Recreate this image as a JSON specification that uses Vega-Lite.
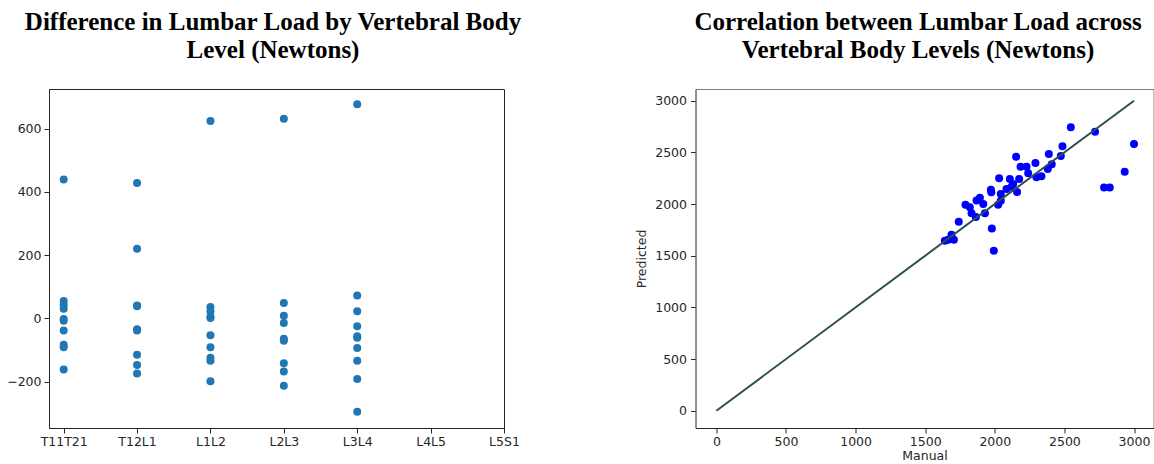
{
  "$schema": "https://vega.github.io/schema/vega-lite/v6.json",
  "background": "white",
  "padding": {"left": 6, "top": 9, "right": 0, "bottom": 0},
  "spacing": 111.5,
  "config": {
    "view": {"stroke": null},
    "axis": {
      "grid": false,
      "labelFont": "DejaVu Sans",
      "labelFontSize": 12.5,
      "labelColor": "#262626",
      "titleFont": "DejaVu Sans",
      "titleFontSize": 12.5,
      "titleFontWeight": "normal",
      "titleColor": "#262626",
      "tickColor": "#262626",
      "domainColor": "#262626",
      "tickSize": 5,
      "labelPadding": 4
    },
    "axisX": {"labelPadding": 2},
    "title": {
      "font": "Liberation Serif",
      "fontSize": 25,
      "fontWeight": "bold",
      "color": "#000000",
      "lineHeight": 28.5,
      "anchor": "middle",
      "offset": 26
    }
  },
  "hconcat": [
    {
      "width": 455,
      "height": 339,
      "view": {"stroke": "#262626", "strokeWidth": 1},
      "title": {
        "text": ["Difference in Lumbar Load by Vertebral Body", "Level (Newtons)"],
        "dx": -3.5
      },
      "data": {
        "values": [
          {"level": "T11T21", "diff": 439}, {"level": "T11T21", "diff": 55}, {"level": "T11T21", "diff": 42},
          {"level": "T11T21", "diff": 30}, {"level": "T11T21", "diff": -2}, {"level": "T11T21", "diff": -8},
          {"level": "T11T21", "diff": -39}, {"level": "T11T21", "diff": -84}, {"level": "T11T21", "diff": -92},
          {"level": "T11T21", "diff": -162},
          {"level": "T12L1", "diff": 428}, {"level": "T12L1", "diff": 220}, {"level": "T12L1", "diff": 40},
          {"level": "T12L1", "diff": 38}, {"level": "T12L1", "diff": -35}, {"level": "T12L1", "diff": -39},
          {"level": "T12L1", "diff": -115}, {"level": "T12L1", "diff": -148}, {"level": "T12L1", "diff": -175},
          {"level": "L1L2", "diff": 624}, {"level": "L1L2", "diff": 36}, {"level": "L1L2", "diff": 22},
          {"level": "L1L2", "diff": 5}, {"level": "L1L2", "diff": 1}, {"level": "L1L2", "diff": -54},
          {"level": "L1L2", "diff": -92}, {"level": "L1L2", "diff": -125}, {"level": "L1L2", "diff": -134},
          {"level": "L1L2", "diff": -199},
          {"level": "L2L3", "diff": 631}, {"level": "L2L3", "diff": 48}, {"level": "L2L3", "diff": 8},
          {"level": "L2L3", "diff": -15}, {"level": "L2L3", "diff": -65}, {"level": "L2L3", "diff": -71},
          {"level": "L2L3", "diff": -142}, {"level": "L2L3", "diff": -168}, {"level": "L2L3", "diff": -213},
          {"level": "L3L4", "diff": 677}, {"level": "L3L4", "diff": 72}, {"level": "L3L4", "diff": 22},
          {"level": "L3L4", "diff": -25}, {"level": "L3L4", "diff": -57}, {"level": "L3L4", "diff": -62},
          {"level": "L3L4", "diff": -94}, {"level": "L3L4", "diff": -134}, {"level": "L3L4", "diff": -192},
          {"level": "L3L4", "diff": -296}
        ]
      },
      "mark": {"type": "circle", "size": 64, "opacity": 1, "color": "#1f77b4"},
      "encoding": {
        "x": {
          "field": "level",
          "type": "ordinal",
          "scale": {
            "type": "point",
            "domain": ["T11T21", "T12L1", "L1L2", "L2L3", "L3L4", "L4L5", "L5S1"],
            "padding": 0.1,
            "align": 1
          },
          "axis": {"title": null, "labelAngle": 0}
        },
        "y": {
          "field": "diff",
          "type": "quantitative",
          "scale": {"domain": [-347, 725], "nice": false, "zero": false},
          "axis": {"title": null, "values": [-200, 0, 200, 400, 600], "format": "d", "labelPadding": 3}
        }
      }
    },
    {
      "width": 458,
      "height": 339,
      "view": {"stroke": "#808080", "strokeWidth": 1},
      "title": {
        "text": ["Correlation between Lumbar Load across", "Vertebral Body Levels (Newtons)"],
        "dx": -6.5
      },
      "layer": [
        {
          "data": {
            "values": [
              {"manual": 2546, "predicted": 2742}, {"manual": 2720, "predicted": 2700}, {"manual": 3000, "predicted": 2581},
              {"manual": 2933, "predicted": 2313}, {"manual": 2785, "predicted": 2161}, {"manual": 2826, "predicted": 2161},
              {"manual": 2486, "predicted": 2558}, {"manual": 2474, "predicted": 2465}, {"manual": 2388, "predicted": 2484},
              {"manual": 2409, "predicted": 2384}, {"manual": 2381, "predicted": 2338}, {"manual": 2292, "predicted": 2397},
              {"manual": 2335, "predicted": 2268}, {"manual": 2299, "predicted": 2258}, {"manual": 2153, "predicted": 2458},
              {"manual": 2185, "predicted": 2361}, {"manual": 2228, "predicted": 2361}, {"manual": 2240, "predicted": 2297},
              {"manual": 2175, "predicted": 2242}, {"manual": 2108, "predicted": 2242}, {"manual": 2132, "predicted": 2194},
              {"manual": 2160, "predicted": 2116}, {"manual": 2084, "predicted": 2145}, {"manual": 2120, "predicted": 2168},
              {"manual": 2031, "predicted": 2250}, {"manual": 2043, "predicted": 2097}, {"manual": 2024, "predicted": 1992},
              {"manual": 2043, "predicted": 2032}, {"manual": 1972, "predicted": 2139}, {"manual": 1975, "predicted": 2115},
              {"manual": 1893, "predicted": 2061}, {"manual": 1869, "predicted": 2035}, {"manual": 1917, "predicted": 2000},
              {"manual": 1929, "predicted": 1910}, {"manual": 1789, "predicted": 1992}, {"manual": 1821, "predicted": 1968},
              {"manual": 1833, "predicted": 1910}, {"manual": 1864, "predicted": 1874}, {"manual": 1741, "predicted": 1829},
              {"manual": 1979, "predicted": 1764}, {"manual": 1993, "predicted": 1548}, {"manual": 1689, "predicted": 1704},
              {"manual": 1665, "predicted": 1655}, {"manual": 1706, "predicted": 1655}, {"manual": 1641, "predicted": 1645}
            ]
          },
          "mark": {"type": "circle", "size": 64, "opacity": 1, "color": "#0000ff"},
          "encoding": {
            "x": {
              "field": "manual",
              "type": "quantitative",
              "scale": {"domain": [-150, 3140], "nice": false, "zero": false},
              "axis": {"title": "Manual", "values": [0, 500, 1000, 1500, 2000, 2500, 3000], "format": "d", "titlePadding": 2}
            },
            "y": {
              "field": "predicted",
              "type": "quantitative",
              "scale": {"domain": [-167, 3113], "nice": false, "zero": false},
              "axis": {"title": "Predicted", "values": [0, 500, 1000, 1500, 2000, 2500, 3000], "format": "d", "domainColor": "#666666", "titlePadding": 6}
            }
          }
        },
        {
          "data": {
            "values": [
              {"manual": 0, "predicted": 0},
              {"manual": 3000, "predicted": 3000}
            ]
          },
          "mark": {"type": "line", "color": "#2f4f4f", "strokeWidth": 2},
          "encoding": {
            "x": {"field": "manual", "type": "quantitative"},
            "y": {"field": "predicted", "type": "quantitative"}
          }
        }
      ]
    }
  ]
}
